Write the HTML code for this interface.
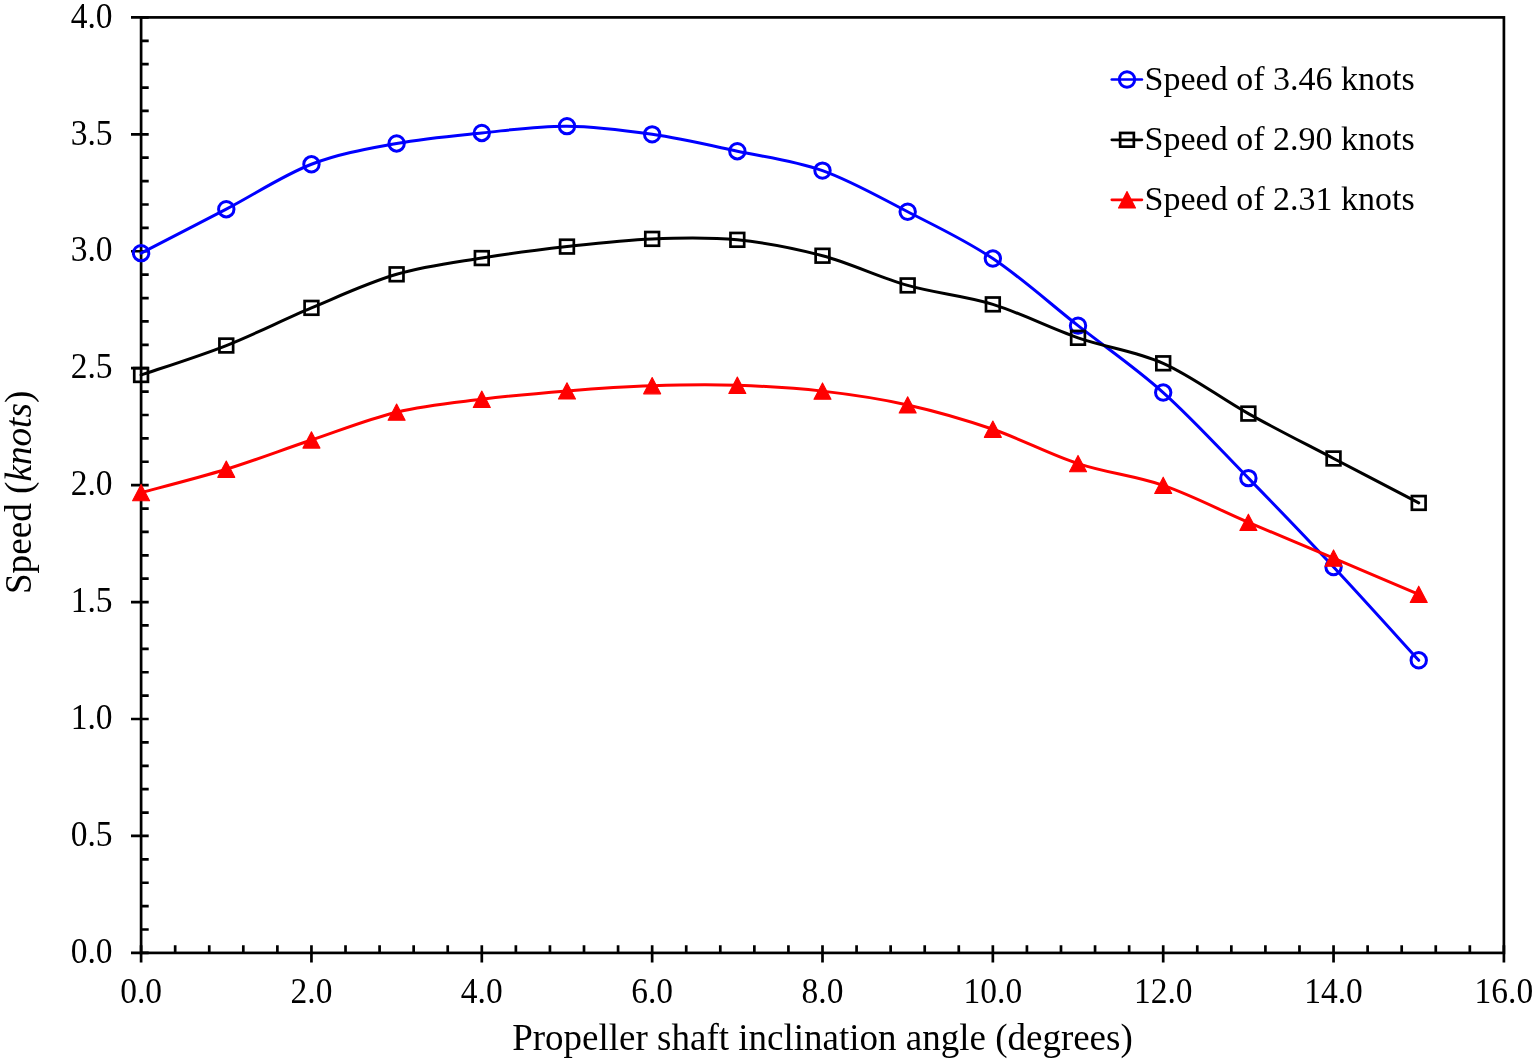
<!DOCTYPE html>
<html><head><meta charset="utf-8"><style>
html,body{margin:0;padding:0;background:#fff;}
svg{display:block;}
text{font-family:"Liberation Serif","Times New Roman",serif;fill:#000;}
</style></head><body>
<svg width="1533" height="1061" viewBox="0 0 1533 1061">
<rect width="1533" height="1061" fill="#fff"/>
<rect x="141.10" y="17.40" width="1362.80" height="935.50" fill="none" stroke="#000" stroke-width="2.70"/>
<path d="M131.00,952.90H148.70 M141.10,929.51H148.70 M141.10,906.12H148.70 M141.10,882.74H148.70 M141.10,859.35H148.70 M131.00,835.96H148.70 M141.10,812.57H148.70 M141.10,789.19H148.70 M141.10,765.80H148.70 M141.10,742.41H148.70 M131.00,719.02H148.70 M141.10,695.64H148.70 M141.10,672.25H148.70 M141.10,648.86H148.70 M141.10,625.47H148.70 M131.00,602.09H148.70 M141.10,578.70H148.70 M141.10,555.31H148.70 M141.10,531.92H148.70 M141.10,508.54H148.70 M131.00,485.15H148.70 M141.10,461.76H148.70 M141.10,438.37H148.70 M141.10,414.99H148.70 M141.10,391.60H148.70 M131.00,368.21H148.70 M141.10,344.82H148.70 M141.10,321.44H148.70 M141.10,298.05H148.70 M141.10,274.66H148.70 M131.00,251.27H148.70 M141.10,227.89H148.70 M141.10,204.50H148.70 M141.10,181.11H148.70 M141.10,157.72H148.70 M131.00,134.34H148.70 M141.10,110.95H148.70 M141.10,87.56H148.70 M141.10,64.17H148.70 M141.10,40.79H148.70 M131.00,17.40H148.70 M141.10,945.30V962.60 M175.17,952.90V945.30 M209.24,952.90V945.30 M243.31,952.90V945.30 M277.38,952.90V945.30 M311.45,945.30V962.60 M345.52,952.90V945.30 M379.59,952.90V945.30 M413.66,952.90V945.30 M447.73,952.90V945.30 M481.80,945.30V962.60 M515.87,952.90V945.30 M549.94,952.90V945.30 M584.01,952.90V945.30 M618.08,952.90V945.30 M652.15,945.30V962.60 M686.22,952.90V945.30 M720.29,952.90V945.30 M754.36,952.90V945.30 M788.43,952.90V945.30 M822.50,945.30V962.60 M856.57,952.90V945.30 M890.64,952.90V945.30 M924.71,952.90V945.30 M958.78,952.90V945.30 M992.85,945.30V962.60 M1026.92,952.90V945.30 M1060.99,952.90V945.30 M1095.06,952.90V945.30 M1129.13,952.90V945.30 M1163.20,945.30V962.60 M1197.27,952.90V945.30 M1231.34,952.90V945.30 M1265.41,952.90V945.30 M1299.48,952.90V945.30 M1333.55,945.30V962.60 M1367.62,952.90V945.30 M1401.69,952.90V945.30 M1435.76,952.90V945.30 M1469.83,952.90V945.30 M1503.90,945.30V962.60" stroke="#000" stroke-width="2.70" fill="none"/>
<text transform="translate(112.6,963.10) scale(0.98,1.04)" font-size="34.2" text-anchor="end">0.0</text>
<text transform="translate(112.6,846.16) scale(0.98,1.04)" font-size="34.2" text-anchor="end">0.5</text>
<text transform="translate(112.6,729.23) scale(0.98,1.04)" font-size="34.2" text-anchor="end">1.0</text>
<text transform="translate(112.6,612.29) scale(0.98,1.04)" font-size="34.2" text-anchor="end">1.5</text>
<text transform="translate(112.6,495.35) scale(0.98,1.04)" font-size="34.2" text-anchor="end">2.0</text>
<text transform="translate(112.6,378.41) scale(0.98,1.04)" font-size="34.2" text-anchor="end">2.5</text>
<text transform="translate(112.6,261.47) scale(0.98,1.04)" font-size="34.2" text-anchor="end">3.0</text>
<text transform="translate(112.6,144.54) scale(0.98,1.04)" font-size="34.2" text-anchor="end">3.5</text>
<text transform="translate(112.6,27.60) scale(0.98,1.04)" font-size="34.2" text-anchor="end">4.0</text>
<text transform="translate(141.10,1003.3) scale(0.98,1.04)" font-size="34.2" text-anchor="middle">0.0</text>
<text transform="translate(311.45,1003.3) scale(0.98,1.04)" font-size="34.2" text-anchor="middle">2.0</text>
<text transform="translate(481.80,1003.3) scale(0.98,1.04)" font-size="34.2" text-anchor="middle">4.0</text>
<text transform="translate(652.15,1003.3) scale(0.98,1.04)" font-size="34.2" text-anchor="middle">6.0</text>
<text transform="translate(822.50,1003.3) scale(0.98,1.04)" font-size="34.2" text-anchor="middle">8.0</text>
<text transform="translate(992.85,1003.3) scale(0.98,1.04)" font-size="34.2" text-anchor="middle">10.0</text>
<text transform="translate(1163.20,1003.3) scale(0.98,1.04)" font-size="34.2" text-anchor="middle">12.0</text>
<text transform="translate(1333.55,1003.3) scale(0.98,1.04)" font-size="34.2" text-anchor="middle">14.0</text>
<text transform="translate(1503.90,1003.3) scale(0.98,1.04)" font-size="34.2" text-anchor="middle">16.0</text>
<text x="822.5" y="1050" font-size="37" text-anchor="middle">Propeller shaft inclination angle (degrees)</text>
<text transform="translate(30.8,492.4) rotate(-90)" font-size="37.2" text-anchor="middle">Speed (<tspan font-style="italic">knots</tspan>)</text>
<path d="M141.10,253.15 C155.30,245.82 197.88,223.99 226.28,209.18 C254.67,194.37 283.06,175.23 311.45,164.27 C339.84,153.32 368.23,148.68 396.62,143.46 C425.02,138.24 453.41,135.82 481.80,132.93 C510.19,130.05 538.58,125.92 566.98,126.15 C595.37,126.39 623.76,130.17 652.15,134.34 C680.54,138.51 708.93,145.13 737.33,151.18 C765.72,157.22 794.11,160.49 822.50,170.59 C850.89,180.68 879.28,197.09 907.68,211.75 C936.07,226.41 964.46,239.54 992.85,258.53 C1021.24,277.51 1049.63,303.31 1078.03,325.65 C1106.42,347.98 1134.81,367.12 1163.20,392.54 C1191.59,417.95 1219.98,449.06 1248.38,478.13 C1276.77,507.21 1305.16,536.64 1333.55,567.01 C1361.94,597.37 1404.53,644.77 1418.73,660.32" fill="none" stroke="#0000ff" stroke-width="3.00" stroke-linejoin="round" stroke-linecap="round"/>
<circle cx="141.10" cy="253.15" r="7.7" fill="none" stroke="#0000ff" stroke-width="3.0"/>
<circle cx="226.28" cy="209.18" r="7.7" fill="none" stroke="#0000ff" stroke-width="3.0"/>
<circle cx="311.45" cy="164.27" r="7.7" fill="none" stroke="#0000ff" stroke-width="3.0"/>
<circle cx="396.62" cy="143.46" r="7.7" fill="none" stroke="#0000ff" stroke-width="3.0"/>
<circle cx="481.80" cy="132.93" r="7.7" fill="none" stroke="#0000ff" stroke-width="3.0"/>
<circle cx="566.98" cy="126.15" r="7.7" fill="none" stroke="#0000ff" stroke-width="3.0"/>
<circle cx="652.15" cy="134.34" r="7.7" fill="none" stroke="#0000ff" stroke-width="3.0"/>
<circle cx="737.33" cy="151.18" r="7.7" fill="none" stroke="#0000ff" stroke-width="3.0"/>
<circle cx="822.50" cy="170.59" r="7.7" fill="none" stroke="#0000ff" stroke-width="3.0"/>
<circle cx="907.68" cy="211.75" r="7.7" fill="none" stroke="#0000ff" stroke-width="3.0"/>
<circle cx="992.85" cy="258.53" r="7.7" fill="none" stroke="#0000ff" stroke-width="3.0"/>
<circle cx="1078.03" cy="325.65" r="7.7" fill="none" stroke="#0000ff" stroke-width="3.0"/>
<circle cx="1163.20" cy="392.54" r="7.7" fill="none" stroke="#0000ff" stroke-width="3.0"/>
<circle cx="1248.38" cy="478.13" r="7.7" fill="none" stroke="#0000ff" stroke-width="3.0"/>
<circle cx="1333.55" cy="567.01" r="7.7" fill="none" stroke="#0000ff" stroke-width="3.0"/>
<circle cx="1418.73" cy="660.32" r="7.7" fill="none" stroke="#0000ff" stroke-width="3.0"/>
<path d="M141.10,374.99 C155.30,370.08 197.88,356.71 226.28,345.53 C254.67,334.34 283.06,319.74 311.45,307.87 C339.84,296.00 368.23,282.61 396.62,274.31 C425.02,266.01 453.41,262.68 481.80,258.06 C510.19,253.44 538.58,249.79 566.98,246.60 C595.37,243.40 623.76,240.01 652.15,238.88 C680.54,237.75 708.93,237.01 737.33,239.82 C765.72,242.62 794.11,248.12 822.50,255.72 C850.89,263.32 879.28,277.31 907.68,285.42 C936.07,293.53 964.46,295.63 992.85,304.36 C1021.24,313.10 1049.63,327.99 1078.03,337.81 C1106.42,347.63 1134.81,350.67 1163.20,363.30 C1191.59,375.93 1219.98,397.72 1248.38,413.58 C1276.77,429.45 1305.16,443.60 1333.55,458.49 C1361.94,473.38 1404.53,495.52 1418.73,502.92" fill="none" stroke="#000000" stroke-width="3.00" stroke-linejoin="round" stroke-linecap="round"/>
<rect x="134.25" y="368.14" width="13.70" height="13.70" fill="none" stroke="#000" stroke-width="2.7"/>
<rect x="219.43" y="338.68" width="13.70" height="13.70" fill="none" stroke="#000" stroke-width="2.7"/>
<rect x="304.60" y="301.02" width="13.70" height="13.70" fill="none" stroke="#000" stroke-width="2.7"/>
<rect x="389.77" y="267.46" width="13.70" height="13.70" fill="none" stroke="#000" stroke-width="2.7"/>
<rect x="474.95" y="251.21" width="13.70" height="13.70" fill="none" stroke="#000" stroke-width="2.7"/>
<rect x="560.12" y="239.75" width="13.70" height="13.70" fill="none" stroke="#000" stroke-width="2.7"/>
<rect x="645.30" y="232.03" width="13.70" height="13.70" fill="none" stroke="#000" stroke-width="2.7"/>
<rect x="730.48" y="232.97" width="13.70" height="13.70" fill="none" stroke="#000" stroke-width="2.7"/>
<rect x="815.65" y="248.87" width="13.70" height="13.70" fill="none" stroke="#000" stroke-width="2.7"/>
<rect x="900.83" y="278.57" width="13.70" height="13.70" fill="none" stroke="#000" stroke-width="2.7"/>
<rect x="986.00" y="297.51" width="13.70" height="13.70" fill="none" stroke="#000" stroke-width="2.7"/>
<rect x="1071.18" y="330.96" width="13.70" height="13.70" fill="none" stroke="#000" stroke-width="2.7"/>
<rect x="1156.35" y="356.45" width="13.70" height="13.70" fill="none" stroke="#000" stroke-width="2.7"/>
<rect x="1241.53" y="406.73" width="13.70" height="13.70" fill="none" stroke="#000" stroke-width="2.7"/>
<rect x="1326.70" y="451.64" width="13.70" height="13.70" fill="none" stroke="#000" stroke-width="2.7"/>
<rect x="1411.88" y="496.07" width="13.70" height="13.70" fill="none" stroke="#000" stroke-width="2.7"/>
<path d="M141.10,492.63 C155.30,488.74 197.88,478.02 226.28,469.25 C254.67,460.48 283.06,449.52 311.45,440.01 C339.84,430.50 368.23,418.96 396.62,412.18 C425.02,405.40 453.41,402.86 481.80,399.32 C510.19,395.77 538.58,393.16 566.98,390.90 C595.37,388.64 623.76,386.69 652.15,385.75 C680.54,384.82 708.93,384.39 737.33,385.29 C765.72,386.18 794.11,387.86 822.50,391.13 C850.89,394.41 879.28,398.58 907.68,404.93 C936.07,411.28 964.46,419.47 992.85,429.25 C1021.24,439.04 1049.63,454.28 1078.03,463.63 C1106.42,472.99 1134.81,475.60 1163.20,485.38 C1191.59,495.17 1219.98,510.21 1248.38,522.34 C1276.77,534.46 1305.16,546.11 1333.55,558.12 C1361.94,570.12 1404.53,588.33 1418.73,594.37" fill="none" stroke="#ff0000" stroke-width="3.00" stroke-linejoin="round" stroke-linecap="round"/>
<polygon points="141.10,484.43 149.60,500.73 132.60,500.73" fill="#ff0000" stroke="#ff0000" stroke-width="1.1" stroke-linejoin="round"/>
<polygon points="226.28,461.05 234.78,477.35 217.78,477.35" fill="#ff0000" stroke="#ff0000" stroke-width="1.1" stroke-linejoin="round"/>
<polygon points="311.45,431.81 319.95,448.11 302.95,448.11" fill="#ff0000" stroke="#ff0000" stroke-width="1.1" stroke-linejoin="round"/>
<polygon points="396.62,403.98 405.12,420.28 388.12,420.28" fill="#ff0000" stroke="#ff0000" stroke-width="1.1" stroke-linejoin="round"/>
<polygon points="481.80,391.12 490.30,407.42 473.30,407.42" fill="#ff0000" stroke="#ff0000" stroke-width="1.1" stroke-linejoin="round"/>
<polygon points="566.98,382.70 575.48,399.00 558.48,399.00" fill="#ff0000" stroke="#ff0000" stroke-width="1.1" stroke-linejoin="round"/>
<polygon points="652.15,377.55 660.65,393.85 643.65,393.85" fill="#ff0000" stroke="#ff0000" stroke-width="1.1" stroke-linejoin="round"/>
<polygon points="737.33,377.09 745.83,393.39 728.83,393.39" fill="#ff0000" stroke="#ff0000" stroke-width="1.1" stroke-linejoin="round"/>
<polygon points="822.50,382.93 831.00,399.23 814.00,399.23" fill="#ff0000" stroke="#ff0000" stroke-width="1.1" stroke-linejoin="round"/>
<polygon points="907.68,396.73 916.18,413.03 899.18,413.03" fill="#ff0000" stroke="#ff0000" stroke-width="1.1" stroke-linejoin="round"/>
<polygon points="992.85,421.05 1001.35,437.35 984.35,437.35" fill="#ff0000" stroke="#ff0000" stroke-width="1.1" stroke-linejoin="round"/>
<polygon points="1078.03,455.43 1086.53,471.73 1069.53,471.73" fill="#ff0000" stroke="#ff0000" stroke-width="1.1" stroke-linejoin="round"/>
<polygon points="1163.20,477.18 1171.70,493.48 1154.70,493.48" fill="#ff0000" stroke="#ff0000" stroke-width="1.1" stroke-linejoin="round"/>
<polygon points="1248.38,514.14 1256.88,530.44 1239.88,530.44" fill="#ff0000" stroke="#ff0000" stroke-width="1.1" stroke-linejoin="round"/>
<polygon points="1333.55,549.92 1342.05,566.22 1325.05,566.22" fill="#ff0000" stroke="#ff0000" stroke-width="1.1" stroke-linejoin="round"/>
<polygon points="1418.73,586.17 1427.23,602.47 1410.23,602.47" fill="#ff0000" stroke="#ff0000" stroke-width="1.1" stroke-linejoin="round"/>
<path d="M1111.80,79.50H1141.90" stroke="#0000ff" stroke-width="2.7" stroke-linecap="round"/>
<circle cx="1127.00" cy="79.50" r="7.7" fill="none" stroke="#0000ff" stroke-width="3.0"/>
<text transform="translate(1144.6,90.10)" font-size="34">Speed of 3.46 knots</text>
<path d="M1111.80,139.80H1141.90" stroke="#000000" stroke-width="2.7" stroke-linecap="round"/>
<rect x="1120.15" y="132.95" width="13.70" height="13.70" fill="none" stroke="#000" stroke-width="2.7"/>
<text transform="translate(1144.6,150.40)" font-size="34">Speed of 2.90 knots</text>
<path d="M1111.80,199.80H1141.90" stroke="#ff0000" stroke-width="2.7" stroke-linecap="round"/>
<polygon points="1127.00,191.60 1135.50,207.90 1118.50,207.90" fill="#ff0000" stroke="#ff0000" stroke-width="1.1" stroke-linejoin="round"/>
<text transform="translate(1144.6,210.40)" font-size="34">Speed of 2.31 knots</text>
</svg></body></html>
